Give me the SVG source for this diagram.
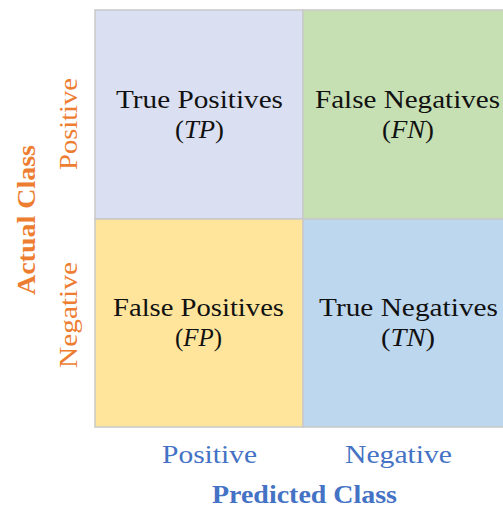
<svg xmlns="http://www.w3.org/2000/svg" width="503" height="508" viewBox="0 0 503 508">
<style>
.cell{stroke:#c9c9c9;stroke-width:1.5}
.t{font-family:"Liberation Serif",serif;font-size:26px;fill:#111;text-anchor:middle}
.ax{font-family:"Liberation Serif",serif;font-size:26px;text-anchor:middle}
.b{font-weight:bold}
.blue{fill:#4472c4}
.orange{fill:#ed7d31}
</style>
<rect width="503" height="508" fill="#fff"/>
<g id="tp"><rect class="cell" x="95" y="10" width="208" height="209" fill="#dae0f2"/>
<text class="t" x="199.5" y="108" textLength="167" lengthAdjust="spacingAndGlyphs">True Positives</text><text class="t" x="199.5" y="138" textLength="49" lengthAdjust="spacingAndGlyphs">(<tspan font-style="italic">TP</tspan>)</text></g>
<g id="fn"><rect class="cell" x="303" y="10" width="208" height="209" fill="#c6e0b4"/>
<text class="t" x="407.5" y="108" textLength="185" lengthAdjust="spacingAndGlyphs">False Negatives</text><text class="t" x="408" y="138" textLength="52" lengthAdjust="spacingAndGlyphs">(<tspan font-style="italic">FN</tspan>)</text></g>
<g id="fp"><rect class="cell" x="95" y="219" width="208" height="208" fill="#fee59b"/>
<text class="t" x="198.5" y="316" textLength="171" lengthAdjust="spacingAndGlyphs">False Positives</text><text class="t" x="198.5" y="346" textLength="47" lengthAdjust="spacingAndGlyphs">(<tspan font-style="italic">FP</tspan>)</text></g>
<g id="tn"><rect class="cell" x="303" y="219" width="208" height="208" fill="#bdd7ee"/>
<text class="t" x="408.5" y="316" textLength="179" lengthAdjust="spacingAndGlyphs">True Negatives</text><text class="t" x="408" y="346" textLength="54" lengthAdjust="spacingAndGlyphs">(<tspan font-style="italic">TN</tspan>)</text></g>
<g id="connectors"/>
<g id="labels">
<text class="ax blue" x="209.5" y="463" textLength="95" lengthAdjust="spacingAndGlyphs">Positive</text>
<text class="ax blue" x="398.5" y="463" textLength="107" lengthAdjust="spacingAndGlyphs">Negative</text>
<text class="ax blue b" x="304.5" y="503" textLength="185" lengthAdjust="spacingAndGlyphs">Predicted Class</text>
<text class="ax orange" transform="translate(77,124) rotate(-90)" textLength="92" lengthAdjust="spacingAndGlyphs">Positive</text>
<text class="ax orange" transform="translate(77,315) rotate(-90)" textLength="106" lengthAdjust="spacingAndGlyphs">Negative</text>
<text class="ax orange b" transform="translate(35,220) rotate(-90)" textLength="150" lengthAdjust="spacingAndGlyphs">Actual Class</text>
</g>
</svg>
